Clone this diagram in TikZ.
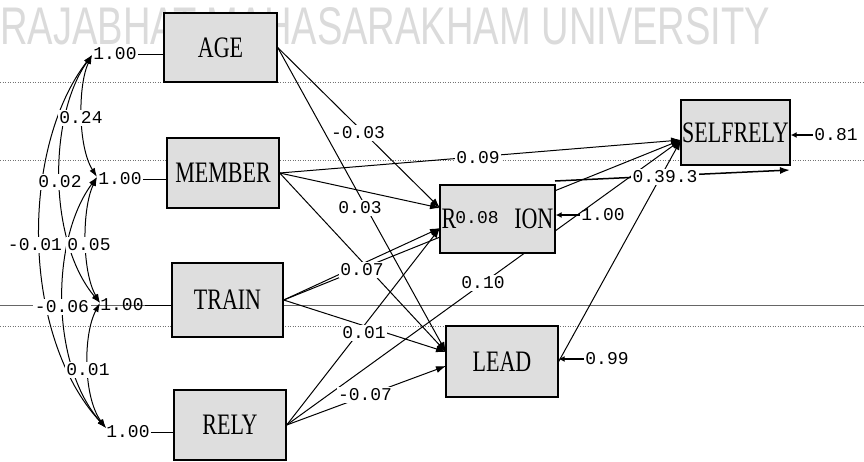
\documentclass[tikz,border=0pt]{standalone}
\usepackage{graphicx}
\usepackage{fontspec}
\setmainfont{Liberation Serif}
\newfontfamily\numfont{Liberation Mono}
\newfontfamily\wmfont{Liberation Sans}
\usetikzlibrary{arrows.meta,backgrounds}
\newcommand{\tallbox}[1]{\scalebox{1}[1.35]{#1}}
\begin{document}
\begin{tikzpicture}[x=1pt,y=-1pt]
\tikzset{
  box/.style={draw=black, line width=1.4pt, fill=black!13, inner sep=0pt, font=\fontsize{22}{22}\selectfont},
  num/.style={font=\numfont\fontsize{18}{18}\selectfont, inner sep=1.5pt, fill=white},
  bare/.style={font=\numfont\fontsize{18}{18}\selectfont, inner sep=1pt},
  effect/.style={line width=1pt, -{Latex[length=10pt,width=7pt]}},
  covar/.style={line width=1pt, {Latex[length=9pt,width=6pt]}-{Latex[length=9pt,width=6pt]}},
  errarrow/.style={line width=1.8pt, -{Latex[length=6pt,width=6pt]}},
  hair/.style={line width=1pt},
  ruledot/.style={black!55, line width=0.8pt, dash pattern=on 1pt off 1.5pt},
  rulesolid/.style={black!60, line width=0.9pt},
}
\useasboundingbox (0,0) rectangle (864,461);

% boxes
\node[box, minimum width=113pt, minimum height=69pt] (AGE) at (220.5,47.5) {\tallbox{AGE}};
\node[box, minimum width=112pt, minimum height=70pt] (MEMBER) at (223,173) {\tallbox{MEMBER}};
\node[box, minimum width=111pt, minimum height=74pt] (TRAIN) at (227.5,300) {\tallbox{TRAIN}};
\node[box, minimum width=112pt, minimum height=70pt] (RELY) at (230,425) {\tallbox{RELY}};
\node[box, minimum width=115pt, minimum height=68pt] (ION) at (497.5,219) {\tallbox{R\hspace{58pt}ION}};
\node[box, minimum width=112pt, minimum height=71pt] (LEAD) at (502,361.5) {\tallbox{LEAD}};
\node[box, minimum width=109pt, minimum height=65pt] (SELF) at (735.5,132.5) {\tallbox{SELFRELY}};

% arrow end points
\coordinate (ionA) at (440,208);
\coordinate (ionB) at (440,228);
\coordinate (leadA) at (446,352);
\coordinate (leadB) at (446,366);
\coordinate (selfIn) at (681,140);
\coordinate (ionTR) at (555,181);
\coordinate (selfBR) at (790,170);
\coordinate (cA) at (92,55);
\coordinate (cM) at (97,177);
\coordinate (cT) at (100,303);
\coordinate (cR) at (106,428);

% variance labels of exogenous variables
\node[bare] (vA) at (115,54) {1.00};
\node[bare] (vM) at (120,179) {1.00};
\node[bare] (vT) at (122,305) {1.00};
\node[bare] (vR) at (128,432) {1.00};

% error labels
\node[bare] (eI) at (603,215) {1.00};
\node[bare] (eL) at (607,359) {0.99};
\node[bare] (eS) at (836,135) {0.81};

\begin{pgfonlayer}{background}
  \fill[white] (0,0) rectangle (864,461);
  \draw[ruledot] (0,82) -- (864,82);
  \draw[ruledot] (0,160) -- (864,160);
  \draw[rulesolid] (0,305) -- (864,305);
  \draw[ruledot] (0,326) -- (864,326);
  \node[anchor=south west, inner sep=0pt] (wm) at (0,45)
    {\color{black!14}\resizebox{770pt}{37pt}{\wmfont RAJABHAT MAHASARAKHAM UNIVERSITY}};
  % structural paths
  \draw[effect] (AGE.east) -- (ionA);
  \draw[effect] (AGE.east) -- (leadA);
  \draw[effect] (MEMBER.east) -- (ionA);
  \draw[effect] (MEMBER.east) -- (leadA);
  \draw[effect] (MEMBER.east) -- (selfIn);
  \draw[effect] (TRAIN.east) -- (ionB);
  \draw[effect] (TRAIN.east) -- (leadA);
  \draw[effect] (TRAIN.east) -- (selfIn);
  \draw[effect] (RELY.east) -- (ionB);
  \draw[effect] (RELY.east) -- (leadB);
  \draw[effect] (RELY.east) -- (selfIn);
  \draw[effect] (LEAD.east) -- (selfIn);
  \draw[effect, line width=1.5pt] (ionTR) -- (selfBR);
  % short lines from variances to boxes
  \draw[hair] (vA.east) -- (vA.east -| AGE.west);
  \draw[hair] (vM.east) -- (vM.east -| MEMBER.west);
  \draw[hair] (vT.east) -- (vT.east -| TRAIN.west);
  \draw[hair] (vR.east) -- (vR.east -| RELY.west);
  % covariances
  \draw[covar] (cA) .. controls (77.8,85.5) and (77.8,146.5) .. (cM);
  \draw[covar] (cA) .. controls (48,117) and (48,241) .. (cT);
  \draw[covar] (cA) .. controls (20.3,148) and (20.3,335) .. (cR);
  \draw[covar] (cM) .. controls (81.8,208.5) and (81.8,271.5) .. (cT);
  \draw[covar] (cM) .. controls (50.2,240) and (50.2,365) .. (cR);
  \draw[covar] (cT) .. controls (83,334) and (83,397) .. (cR);
\end{pgfonlayer}

% error arrows
\draw[errarrow] (eI.west) -- (eI.west -| ION.east);
\draw[errarrow] (eL.west) -- (eL.west -| LEAD.east);
\draw[errarrow] (eS.west) -- (eS.west -| SELF.east);

% path coefficients
\node[num] (p1) at (358,133) {-0.03};
\node[num] (p2) at (360,208) {0.03};
\node[num] (p3) at (478,158) {0.09};
\node[num] (p4) at (362,270) {0.07};
\node[num] (p5) at (364,333) {0.01};
\node[num] (p6) at (365,395) {-0.07};
\node[num] (p7) at (483,283) {0.10};
\node[bare] (p8) at (477,218) {0.08};
\node[num] (p9) at (665,177) {0.39.3};

% covariance coefficients
\node[num] (k1) at (81,118) {0.24};
\node[num] (k2) at (60,182) {0.02};
\node[num] (k3) at (35,245) {-0.01};
\node[num] (k4) at (89,245) {0.05};
\node[num] (k5) at (62,307) {-0.06};
\node[num] (k6) at (88,370) {0.01};
\end{tikzpicture}
\end{document}
